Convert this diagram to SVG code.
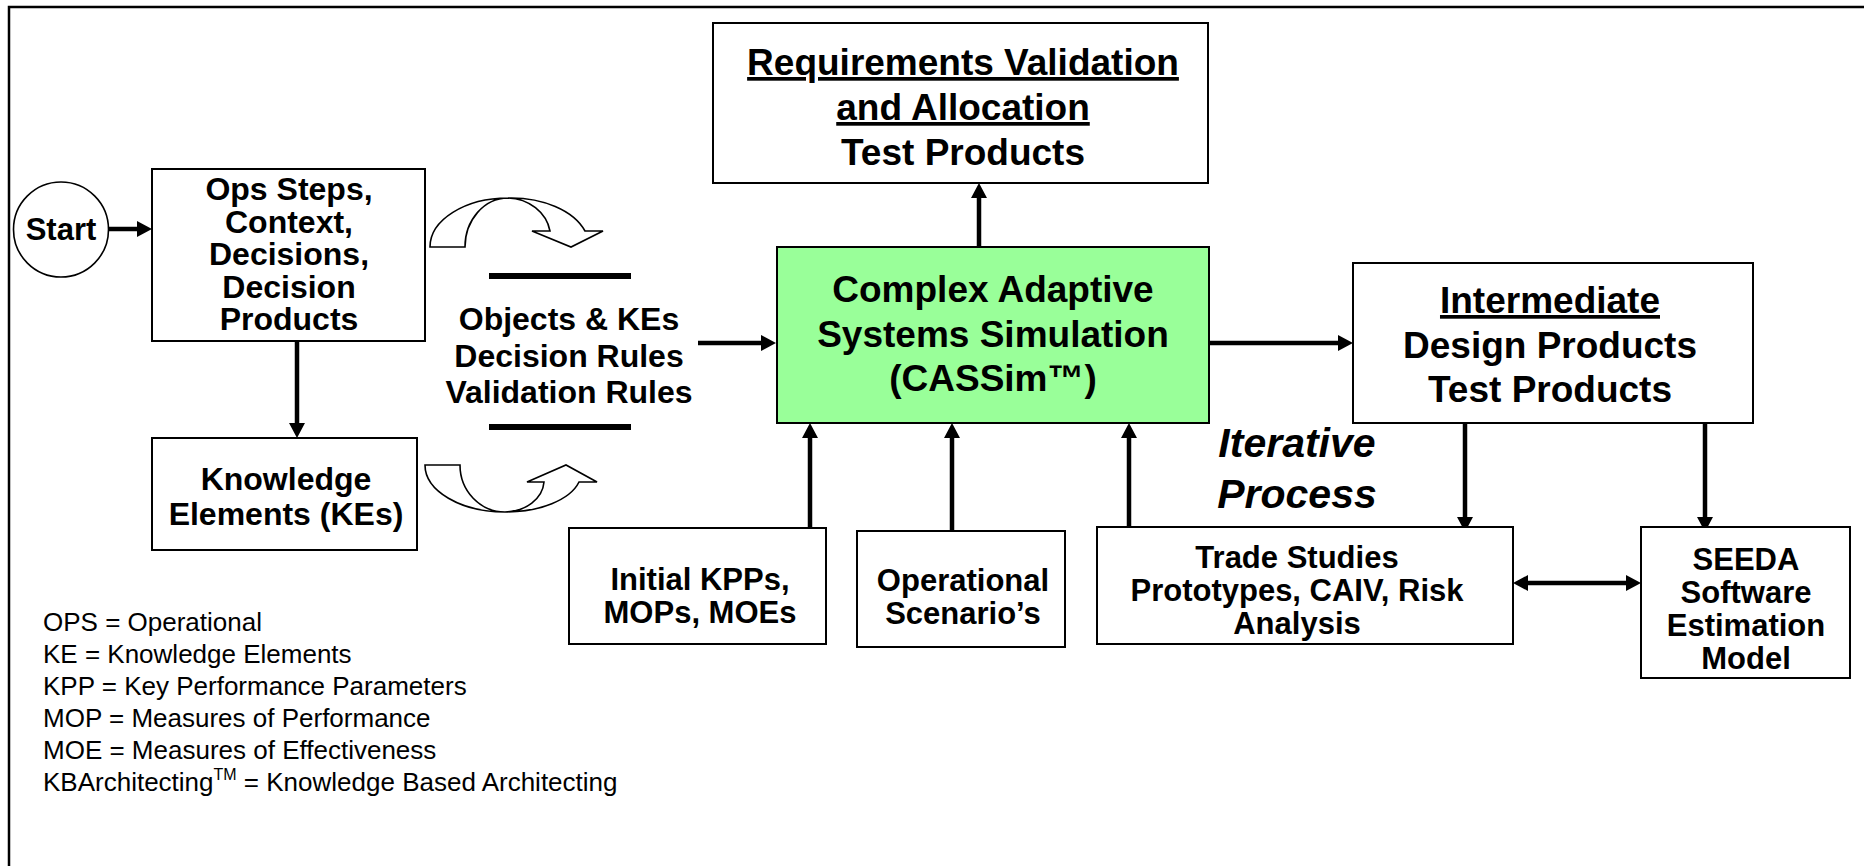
<svg xmlns="http://www.w3.org/2000/svg" width="1864" height="866" viewBox="0 0 1864 866">
<defs>
<style>
.box{fill:#fff;stroke:#000;stroke-width:2}
.t{font-family:"Liberation Sans",Arial,sans-serif;font-weight:bold;text-anchor:middle;fill:#000}
.leg{font-family:"Liberation Sans",Arial,sans-serif;font-size:26px;fill:#000}
.con{stroke:#000;stroke-width:4.5;fill:none}
.curve{fill:#fff;stroke:#000;stroke-width:1.6;stroke-linejoin:miter}
.bar{stroke:#000;stroke-width:6}
</style>
<marker id="ah" markerUnits="userSpaceOnUse" markerWidth="16" markerHeight="16" refX="1" refY="8" orient="auto-start-reverse">
<path d="M0,0 L15,8 L0,16 Z" fill="#000"/>
</marker>
</defs>
<rect width="1864" height="866" fill="#fff"/>
<rect x="9" y="7" width="1900" height="900" fill="none" stroke="#000" stroke-width="2.5"/>

<g id="connectors">
<line class="con" x1="109" y1="229" x2="138" y2="229" marker-end="url(#ah)"/>
<line class="con" x1="297" y1="341" x2="297" y2="424" marker-end="url(#ah)"/>
<line class="con" x1="698" y1="343" x2="762" y2="343" marker-end="url(#ah)"/>
<line class="con" x1="979" y1="247" x2="979" y2="197" marker-end="url(#ah)"/>
<line class="con" x1="1209" y1="343" x2="1339" y2="343" marker-end="url(#ah)"/>
<line class="con" x1="1465" y1="423" x2="1465" y2="518" marker-end="url(#ah)"/>
<line class="con" x1="1705" y1="423" x2="1705" y2="518" marker-end="url(#ah)"/>
<line class="con" x1="810" y1="528" x2="810" y2="437" marker-end="url(#ah)"/>
<line class="con" x1="952" y1="531" x2="952" y2="437" marker-end="url(#ah)"/>
<line class="con" x1="1129" y1="527" x2="1129" y2="437" marker-end="url(#ah)"/>
<line class="con" x1="1527" y1="583" x2="1627" y2="583" marker-start="url(#ah)" marker-end="url(#ah)"/>
</g>

<g id="start">
<ellipse cx="61" cy="229.5" rx="47.5" ry="47.5" fill="#fff" stroke="#000" stroke-width="1.6"/>
<text class="t" x="61" y="240" font-size="31">Start</text>
</g>

<g id="ops">
<rect class="box" x="152" y="169" width="273" height="172"/>
<text class="t" font-size="32"><tspan x="289" y="200">Ops Steps,</tspan><tspan x="289" y="232.5">Context,</tspan><tspan x="289" y="265">Decisions,</tspan><tspan x="289" y="297.5">Decision</tspan><tspan x="289" y="330">Products</tspan></text>
</g>

<g id="knowledge">
<rect class="box" x="152" y="438" width="265" height="112"/>
<text class="t" font-size="32"><tspan x="286" y="490">Knowledge</tspan><tspan x="286" y="525">Elements (KEs)</tspan></text>
</g>

<g id="cycle-arrows">
<path class="curve" d="M430,247 A78,49 0 0 1 508,198 A78,49 0 0 1 585,231 L603,231 L571,247 L532,231 L550,231 A44,40 0 0 0 508,198 A43,49 0 0 0 465,247 Z"/>
<path class="curve" d="M425,465 A80,47 0 0 0 505,512 A76,40 0 0 0 579,482 L597,482 L566,465 L527,482 L544,482 A40,32 0 0 1 505,512 A45,47 0 0 1 460,465 Z"/>
</g>

<g id="rules">
<line class="bar" x1="489" y1="276" x2="631" y2="276"/>
<line class="bar" x1="489" y1="427" x2="631" y2="427"/>
<text class="t" font-size="32"><tspan x="569" y="330">Objects &amp; KEs</tspan><tspan x="569" y="367">Decision Rules</tspan><tspan x="569" y="403">Validation Rules</tspan></text>
</g>

<g id="requirements">
<rect class="box" x="713" y="23" width="495" height="160"/>
<text class="t" font-size="37"><tspan x="963" y="75" text-decoration="underline">Requirements Validation</tspan><tspan x="963" y="120" text-decoration="underline">and Allocation</tspan><tspan x="963" y="165">Test Products</tspan></text>
</g>

<g id="cassim">
<rect x="777" y="247" width="432" height="176" fill="#99FF99" stroke="#000" stroke-width="2"/>
<text class="t" font-size="37"><tspan x="993" y="302">Complex Adaptive</tspan><tspan x="993" y="347">Systems Simulation</tspan><tspan x="993" y="391">(CASSim™)</tspan></text>
</g>

<g id="intermediate">
<rect class="box" x="1353" y="263" width="400" height="160"/>
<text class="t" font-size="37"><tspan x="1550" y="313" text-decoration="underline">Intermediate</tspan><tspan x="1550" y="358">Design Products</tspan><tspan x="1550" y="402">Test Products</tspan></text>
</g>

<g id="iterative">
<text class="t" font-size="41" font-style="italic"><tspan x="1297" y="457">Iterative</tspan><tspan x="1297" y="508">Process</tspan></text>
</g>

<g id="initial">
<rect class="box" x="569" y="528" width="257" height="116"/>
<text class="t" font-size="31"><tspan x="700" y="590">Initial KPPs,</tspan><tspan x="700" y="623">MOPs, MOEs</tspan></text>
</g>

<g id="operational">
<rect class="box" x="857" y="531" width="208" height="116"/>
<text class="t" font-size="31"><tspan x="963" y="591">Operational</tspan><tspan x="963" y="624">Scenario’s</tspan></text>
</g>

<g id="trade">
<rect class="box" x="1097" y="527" width="416" height="117"/>
<text class="t" font-size="31"><tspan x="1297" y="568">Trade Studies</tspan><tspan x="1297" y="601">Prototypes, CAIV, Risk</tspan><tspan x="1297" y="634">Analysis</tspan></text>
</g>

<g id="seeda">
<rect class="box" x="1641" y="527" width="209" height="151"/>
<text class="t" font-size="31"><tspan x="1746" y="570">SEEDA</tspan><tspan x="1746" y="603">Software</tspan><tspan x="1746" y="636">Estimation</tspan><tspan x="1746" y="669">Model</tspan></text>
</g>

<g id="legend">
<text class="leg" x="43" y="631">OPS = Operational</text>
<text class="leg" x="43" y="663">KE = Knowledge Elements</text>
<text class="leg" x="43" y="695">KPP = Key Performance Parameters</text>
<text class="leg" x="43" y="727">MOP = Measures of Performance</text>
<text class="leg" x="43" y="759">MOE = Measures of Effectiveness</text>
<text class="leg" x="43" y="791">KBArchitecting<tspan font-size="16" dy="-11">TM</tspan><tspan dy="11"> = Knowledge Based Architecting</tspan></text>
</g>
</svg>
